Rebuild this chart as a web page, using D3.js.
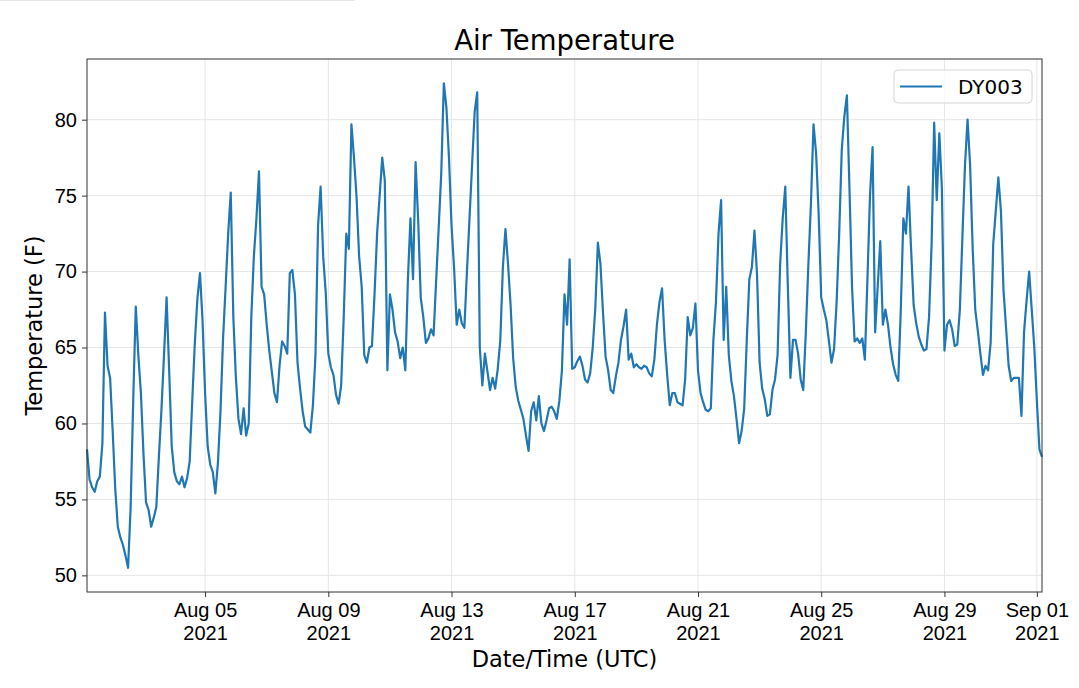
<!DOCTYPE html>
<html>
<head>
<meta charset="utf-8">
<script src="https://cdn.jsdelivr.net/npm/d3@7"></script>
<style>
  body { margin: 0; background: #fff; }
  svg { font-family: "DejaVu Sans", sans-serif; }
</style>
</head>
<body>
<svg id="chart" width="1079" height="688"></svg>
<script>
// one row per UTC day, readings every 2 hours starting 04:00 UTC
var readingDays = [
  "2021-08-01", "2021-08-02", "2021-08-03", "2021-08-04", "2021-08-05", "2021-08-06",
  "2021-08-07", "2021-08-08", "2021-08-09", "2021-08-10", "2021-08-11", "2021-08-12",
  "2021-08-13", "2021-08-14", "2021-08-15", "2021-08-16", "2021-08-17", "2021-08-18",
  "2021-08-19", "2021-08-20", "2021-08-21", "2021-08-22", "2021-08-23", "2021-08-24",
  "2021-08-25", "2021-08-26", "2021-08-27", "2021-08-28", "2021-08-29", "2021-08-30",
  "2021-08-31"
];
var readingHours = [4, 6, 8, 10, 12, 14, 16, 18, 20, 22, 24, 26];

var airTempF = [
  [58.3, 56.3, 55.8, 55.5, 56.2, 56.5, 58.7, 67.3, 63.8, 63.0, 59.5, 55.7],
  [53.2, 52.5, 52.0, 51.3, 50.5, 54.5, 61.5, 67.7, 64.5, 62.0, 58.0, 54.8],
  [54.3, 53.2, 53.8, 54.5, 57.8, 60.9, 64.5, 68.3, 63.5, 58.5, 56.8, 56.2],
  [56.0, 56.5, 55.8, 56.4, 57.5, 61.5, 65.3, 68.2, 69.9, 66.8, 62.0, 58.5],
  [57.3, 56.8, 55.4, 57.4, 60.8, 65.6, 69.0, 72.5, 75.2, 67.0, 63.0, 60.3],
  [59.3, 61.0, 59.2, 60.0, 67.0, 71.0, 73.5, 76.6, 69.0, 68.5, 66.5, 64.8],
  [63.4, 62.0, 61.4, 63.8, 65.4, 65.1, 64.6, 69.9, 70.1, 68.5, 64.0, 62.3],
  [60.8, 59.8, 59.6, 59.4, 61.2, 64.5, 73.0, 75.6, 71.0, 68.6, 64.6, 63.7],
  [63.2, 61.9, 61.3, 62.5, 67.0, 72.5, 71.5, 79.7, 77.5, 74.9, 71.0, 69.0],
  [64.5, 64.0, 65.0, 65.1, 68.5, 72.5, 75.0, 77.5, 76.0, 63.5, 68.5, 67.5],
  [66.0, 65.4, 64.3, 65.0, 63.5, 69.5, 73.5, 69.5, 77.2, 73.4, 68.3, 67.0],
  [65.3, 65.6, 66.2, 65.8, 69.4, 72.9, 76.5, 82.4, 80.8, 77.5, 73.0, 70.2],
  [66.5, 67.5, 66.6, 66.3, 70.0, 73.5, 77.0, 80.5, 81.8, 65.0, 62.5, 64.6],
  [63.4, 62.2, 63.0, 62.3, 63.6, 65.5, 70.3, 72.8, 70.5, 67.8, 64.3, 62.4],
  [61.5, 60.9, 60.3, 59.2, 58.2, 60.8, 61.4, 60.2, 61.8, 60.0, 59.5, 60.2],
  [61.0, 61.1, 60.8, 60.3, 61.5, 63.5, 68.5, 66.5, 70.8, 63.6, 63.7, 64.1],
  [64.4, 63.8, 62.9, 62.7, 63.3, 65.0, 67.6, 71.9, 70.5, 67.3, 64.4, 63.5],
  [62.2, 62.0, 63.1, 64.0, 65.5, 66.4, 67.5, 64.2, 64.6, 63.7, 63.9, 63.7],
  [63.6, 63.8, 63.7, 63.3, 63.1, 64.2, 66.5, 68.0, 68.9, 65.5, 63.2, 61.2],
  [62.0, 62.0, 61.4, 61.3, 61.2, 62.9, 67.0, 65.8, 66.3, 67.9, 63.5, 62.0],
  [61.4, 60.9, 60.8, 61.0, 65.5, 68.0, 72.5, 74.7, 65.5, 69.0, 64.5, 62.8],
  [61.8, 60.3, 58.7, 59.5, 61.0, 65.5, 69.5, 70.3, 72.7, 69.8, 64.0, 62.3],
  [61.6, 60.5, 60.6, 62.2, 62.9, 64.5, 70.5, 73.5, 75.6, 69.0, 63.0, 65.5],
  [65.5, 64.6, 62.9, 62.2, 66.0, 70.5, 74.5, 79.7, 77.8, 73.8, 68.3, 67.5],
  [66.8, 65.4, 64.0, 64.9, 68.0, 72.5, 78.0, 80.2, 81.6, 75.5, 69.0, 65.4],
  [65.6, 65.3, 65.6, 64.2, 69.5, 75.0, 78.2, 66.0, 69.0, 72.0, 66.5, 67.5],
  [66.5, 65.0, 63.9, 63.2, 62.8, 67.5, 73.5, 72.5, 75.6, 71.5, 67.8, 66.6],
  [65.7, 65.2, 64.8, 64.9, 67.0, 71.8, 79.8, 74.7, 79.1, 75.5, 64.8, 66.5],
  [66.8, 66.2, 65.1, 65.2, 67.5, 72.3, 77.0, 80.0, 77.0, 71.5, 67.5, 66.1],
  [64.6, 63.2, 63.8, 63.5, 65.3, 71.8, 74.0, 76.2, 74.0, 68.8, 66.3, 63.8],
  [62.8, 63.0, 63.0, 63.0, 60.5, 66.0, 68.1, 70.0, 67.5, 65.0, 61.5, 58.3]
];
var lastReadingTime = "2021-09-01T04:00:00Z";
var lastReadingF = 57.8;

var yTicks = [50, 55, 60, 65, 70, 75, 80];
var xTickDates = ["2021-08-05", "2021-08-09", "2021-08-13", "2021-08-17",
                  "2021-08-21", "2021-08-25", "2021-08-29", "2021-09-01"];
var seriesName = "DY003";

var margin = { top: 59, right: 37, bottom: 96, left: 87 },
    width = 1079 - margin.left - margin.right,
    height = 688 - margin.top - margin.bottom;

// flatten the day rows into timestamped readings
var readings = [];
readingDays.forEach(function(day, d) {
  var base = new Date(day + "T00:00:00Z").getTime();
  readingHours.forEach(function(h, i) {
    readings.push({ time: new Date(base + h * 3600e3), value: airTempF[d][i] });
  });
});
readings.push({ time: new Date(lastReadingTime), value: lastReadingF });

var svg = d3.select("#chart");

// faint strip at the very top of the screenshot
svg.append("line")
  .attr("x1", 0).attr("x2", 355).attr("y1", 0.5).attr("y2", 0.5)
  .attr("stroke", "#e4e4e4").attr("stroke-width", 1);

var g = svg.append("g")
  .attr("transform", "translate(" + margin.left + "," + margin.top + ")");

var x = d3.scaleUtc()
  .domain(d3.extent(readings, function(d) { return d.time; }))
  .range([0, width]);

// matplotlib-like 5% padding around the data
var ext = d3.extent(readings, function(d) { return d.value; });
var pad = (ext[1] - ext[0]) * 0.05;
var y = d3.scaleLinear()
  .domain([ext[0] - pad, ext[1] + pad])
  .range([height, 0]);

var xTicks = xTickDates.map(function(s) { return new Date(s + "T00:00:00Z"); });
var fmtDay = d3.utcFormat("%b %d"), fmtYear = d3.utcFormat("%Y");

// grid
g.append("g").selectAll("line.gx")
  .data(xTicks).enter().append("line")
  .attr("x1", function(d) { return x(d); }).attr("x2", function(d) { return x(d); })
  .attr("y1", 0).attr("y2", height)
  .attr("stroke", "#e6e6e6").attr("stroke-width", 1);
g.append("g").selectAll("line.gy")
  .data(yTicks).enter().append("line")
  .attr("x1", 0).attr("x2", width)
  .attr("y1", function(d) { return y(d); }).attr("y2", function(d) { return y(d); })
  .attr("stroke", "#e6e6e6").attr("stroke-width", 1);

// the line
var line = d3.line()
  .x(function(d) { return x(d.time); })
  .y(function(d) { return y(d.value); });

g.append("path")
  .datum(readings)
  .attr("fill", "none")
  .attr("stroke", "#1f77b4")
  .attr("stroke-width", 2.2)
  .attr("stroke-linejoin", "round")
  .attr("d", line);

// axes
var xAxis = d3.axisBottom(x).tickValues(xTicks).tickSize(5).tickPadding(4).tickFormat(fmtDay);
var yAxis = d3.axisLeft(y).tickValues(yTicks).tickSize(5).tickPadding(5);

var gx = g.append("g")
  .attr("transform", "translate(0," + height + ")")
  .call(xAxis);
gx.select(".domain").remove();
gx.selectAll(".tick line").attr("stroke", "#333");
gx.selectAll(".tick text").each(function(d) {
  var t = d3.select(this).text(null)
    .attr("font-size", "20px").attr("fill", "#000").attr("dy", null).attr("y", 24.5);
  t.append("tspan").attr("x", 0).text(fmtDay(d));
  t.append("tspan").attr("x", 0).attr("dy", 23.5).text(fmtYear(d));
});

var gy = g.append("g").call(yAxis);
gy.select(".domain").remove();
gy.selectAll(".tick line").attr("stroke", "#333");
gy.selectAll(".tick text").attr("font-size", "20px").attr("fill", "#000");

// frame
g.append("rect")
  .attr("width", width).attr("height", height)
  .attr("fill", "none").attr("stroke", "#333").attr("stroke-width", 1);

// title and axis labels
svg.append("text")
  .attr("x", margin.left + width / 2).attr("y", 50)
  .attr("text-anchor", "middle").attr("font-size", "27.5px")
  .text("Air Temperature");

svg.append("text")
  .attr("x", margin.left + width / 2).attr("y", 667)
  .attr("text-anchor", "middle").attr("font-size", "22.5px")
  .text("Date/Time (UTC)");

svg.append("text")
  .attr("transform", "translate(42," + (margin.top + height / 2) + ") rotate(-90)")
  .attr("text-anchor", "middle").attr("font-size", "22.5px")
  .text("Temperature (F)");

// legend
var legend = svg.append("g").attr("transform", "translate(894,70)");
legend.append("rect")
  .attr("width", 138).attr("height", 33).attr("rx", 4)
  .attr("fill", "#fff").attr("fill-opacity", 0.8)
  .attr("stroke", "#d6d6d6").attr("stroke-width", 1);
legend.append("line")
  .attr("x1", 6).attr("x2", 48).attr("y1", 16.5).attr("y2", 16.5)
  .attr("stroke", "#1f77b4").attr("stroke-width", 2);
legend.append("text")
  .attr("x", 64).attr("y", 23.5)
  .attr("font-size", "20px")
  .text(seriesName);
</script>
</body>
</html>
